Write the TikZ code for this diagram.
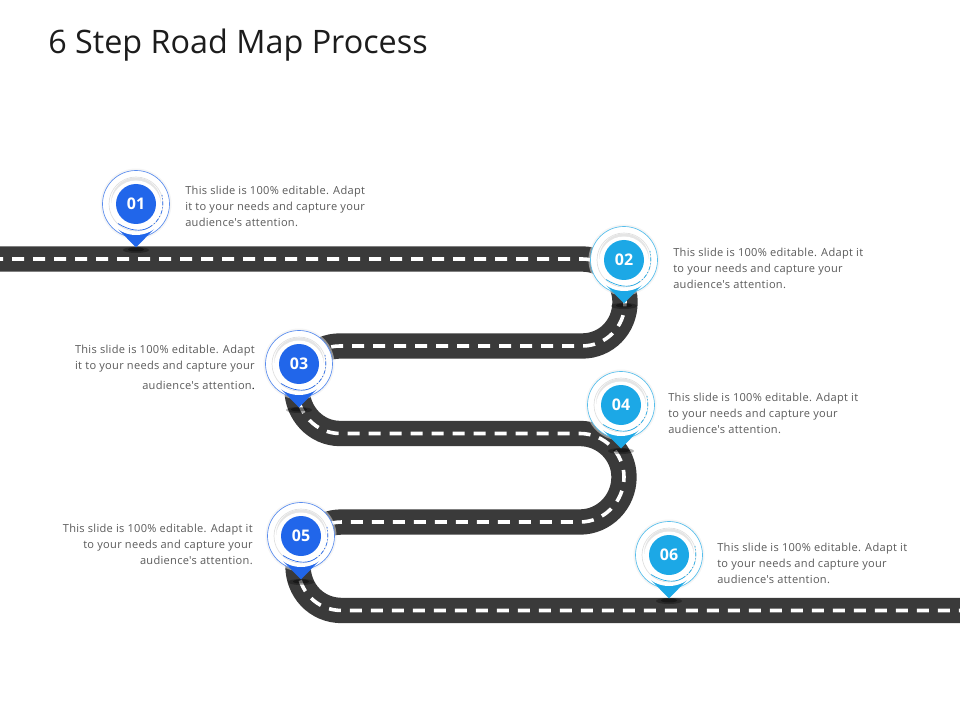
\documentclass[tikz,border=0pt]{standalone}
\usepackage{fontspec}
\setmainfont{Open Sans}
\newfontfamily\blurbfont[LetterSpace=2.6]{Open Sans}
\usetikzlibrary{calc}
\definecolor{pinblue}{HTML}{2166EA}
\definecolor{pincyan}{HTML}{1CA8E6}
\definecolor{roadgrey}{HTML}{3A3A3A}
\definecolor{bodytext}{HTML}{5A5A5A}
\definecolor{titletext}{HTML}{1C1C1C}
\tikzset{
  x=0.75pt,y=-0.75pt,
  road/.style={line width=19pt,draw=roadgrey},
  roaddash/.style={line width=2.7pt,draw=white,dash pattern=on 9pt off 6.75pt,dash phase=3pt},
  disc/.style={circle,inner sep=0pt,minimum size=30pt,text=white,font=\bfseries\fontsize{12}{14}\selectfont},
  blurb/.style={inner sep=0pt,text=bodytext,font=\blurbfont\fontsize{8.3}{12}\selectfont,align=left,anchor=west},
  blurbr/.style={blurb,align=right,anchor=east},
}
\newcommand{\roadpin}[5]{%
  \begin{scope}[shift={(#2,#3)}]
    \fill[black,opacity=.3] (0,46) ellipse [x radius=13,y radius=3];
    \fill[black,opacity=.4] (0,45.5) ellipse [x radius=8,y radius=2];
    \fill[black!8,opacity=.5] (0,0) circle [radius=35.5];
    \filldraw[fill=white,draw=#4!75,line width=.5pt] (0,0) circle [radius=33.5];
    \fill[#4] (-18,25) -- (0,43.5) -- (18,25) -- cycle;
    \fill[white] (0,0) circle [radius=31];
    \draw[draw=black!12,line width=.5pt] (0,0) circle [radius=27];
    \fill[black!10] (0,-1.5) circle [radius=25];
    \fill[white] (0,1.5) circle [radius=25];
    \draw[#4,line width=.5pt] (-18,19.5) .. controls (-6,27) and (5,28) .. (13,23.5);
    \draw[#4,line width=.5pt,dash pattern=on 3pt off 1.5pt on .8pt off 1.5pt] (13,23.5) .. controls (24,17) and (29,6) .. (26,-9);
    \node[disc,fill=#4] (#1) at (0,0) {#5};
  \end{scope}%
}
\begin{document}
\begin{tikzpicture}
\useasboundingbox (0,0) rectangle (960,720);
\node[inner sep=0pt,anchor=base west,text=titletext,font=\fontsize{24.25}{28}\selectfont] (title) at (48,53.5) {6 Step Road Map Process};

\def\roadline{(-5,259) -- (582,259) .. controls (606,259) and (625,278) .. (625,302)
  .. controls (625,327) and (606,346) .. (582,346) -- (340,346)
  .. controls (316,346) and (297,365) .. (297,389)
  .. controls (297,413) and (316,433.5) .. (340,433.5) -- (580,433.5)
  .. controls (604,433.5) and (624,453) .. (624,477)
  .. controls (624,502) and (604,522) .. (580,522) -- (342,522)
  .. controls (316,522) and (298,542) .. (298,566)
  .. controls (298,590) and (316,610.5) .. (342,610.5) -- (965,610.5)}
\draw[road] \roadline;
\draw[roaddash] \roadline;

\roadpin{p1}{136}{204}{pinblue}{01}
\roadpin{p2}{624}{260}{pincyan}{02}
\roadpin{p3}{299}{364}{pinblue}{03}
\roadpin{p4}{621}{405}{pincyan}{04}
\roadpin{p5}{301}{536}{pinblue}{05}
\roadpin{p6}{669}{555}{pincyan}{06}

\node[blurb] (t1) at (185,206.5) {This slide is 100\% editable. Adapt\\ it to your needs and capture your\\audience's attention.};
\node[blurb] (t2) at (673,268) {This slide is 100\% editable. Adapt it\\to your needs and capture your\\audience's attention.};
\node[blurbr] (t3) at (255,367.5) {This slide is 100\% editable. Adapt\\it to your needs and capture your\\[2.5pt]audience's attention{\color{black}.}};
\node[blurb] (t4) at (668,413) {This slide is 100\% editable. Adapt it\\to your needs and capture your\\audience's attention.};
\node[blurbr] (t5) at (253,544) {This slide is 100\% editable. Adapt it\\to your needs and capture your\\audience's attention.};
\node[blurb] (t6) at (717,563) {This slide is 100\% editable. Adapt it\\to your needs and capture your\\audience's attention.};
\end{tikzpicture}
\end{document}
